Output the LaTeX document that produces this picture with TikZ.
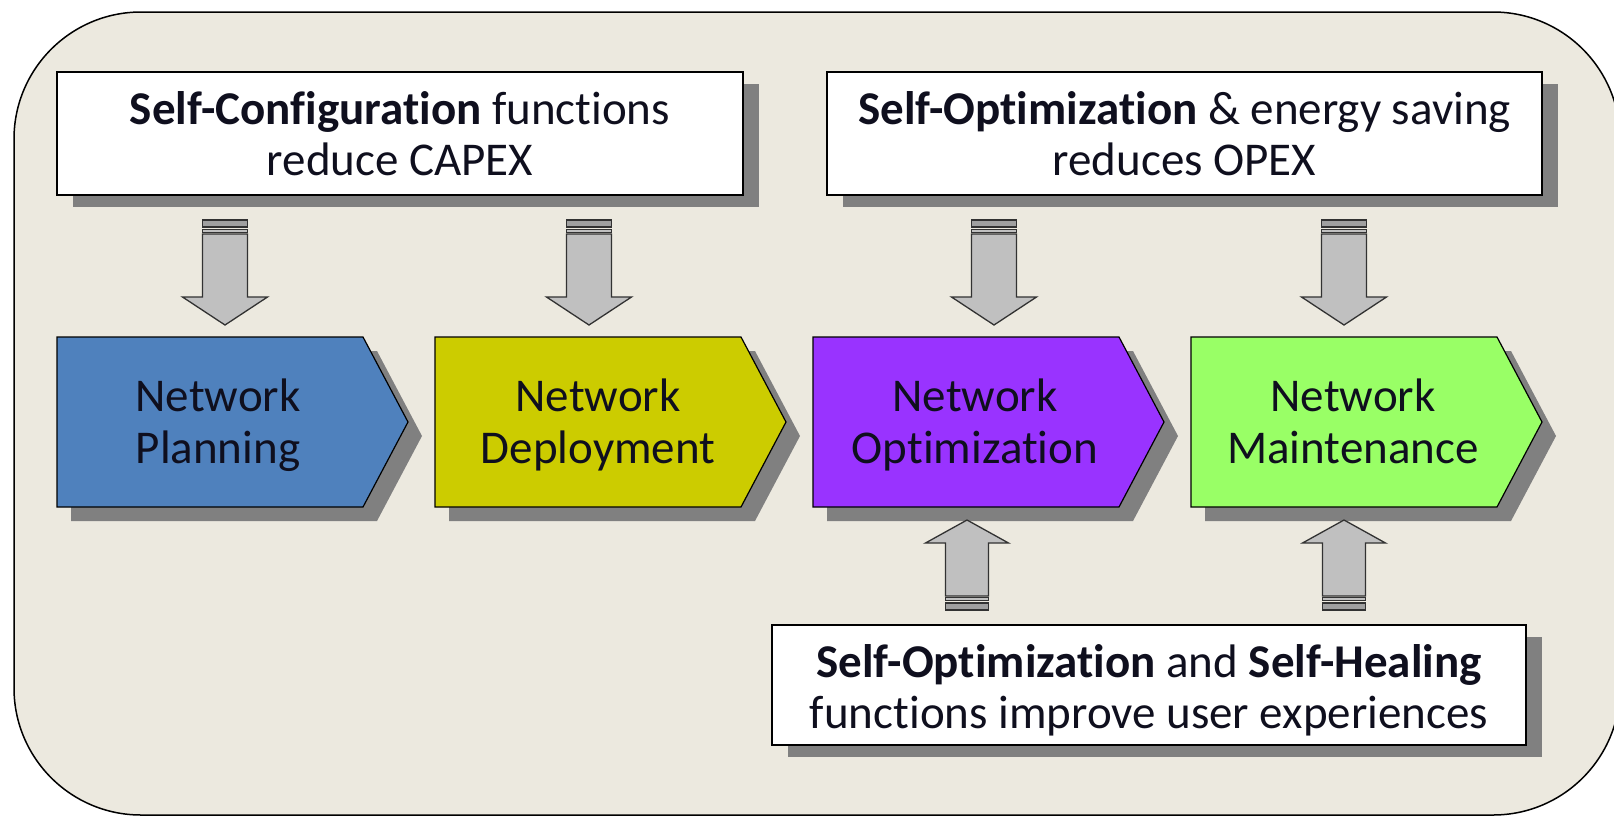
\documentclass[tikz,border=0pt]{standalone}
\usepackage{fontspec}
\setmainfont{Carlito}[Ligatures={CommonOff}]
\usetikzlibrary{shadows}
\definecolor{bg}{RGB}{236,233,223}
\definecolor{shadowgray}{RGB}{128,128,128}
\definecolor{cplan}{RGB}{79,129,189}
\definecolor{cdeploy}{RGB}{204,204,0}
\definecolor{coptim}{RGB}{153,51,255}
\definecolor{cmaint}{RGB}{153,255,102}
\definecolor{arrfill}{RGB}{192,192,192}
\definecolor{arrline}{RGB}{50,50,50}
\definecolor{stripefill}{RGB}{160,160,160}
\definecolor{txtcol}{RGB}{15,15,30}
\tikzset{
  txt/.style={font=\fontsize{47}{51.5}\selectfont, align=center, text=txtcol, inner sep=0},
  box/.style={draw=black, line width=1.5, fill=white, txt, outer sep=0, anchor=north west,
    drop shadow={shadow xshift=16pt, shadow yshift=-12pt, fill=shadowgray, opacity=1}},
  chev/.style={draw=black, line width=1.2,
    drop shadow={shadow xshift=14pt, shadow yshift=-14pt, fill=shadowgray, opacity=1}},
  arr/.style={draw=arrline, fill=arrfill, line width=1.3, line join=miter},
}
\newcommand\downblock[1]{%
  \begin{scope}[shift={(#1)}]
    \draw[arr, fill=stripefill] (-22.5,0) rectangle (22.5,7);
    \draw[arr] (-22.5,9.5) rectangle (22.5,12.5);
    \draw[arr] (-22.5,14) -- (-22.5,77) -- (-42.5,77) -- (0,105) -- (42.5,77) -- (22.5,77) -- (22.5,14) -- cycle;
  \end{scope}}
\newcommand\upblock[1]{%
  \begin{scope}[shift={(#1)}]
    \draw[arr, fill=stripefill] (-21.5,0) rectangle (21.5,-7);
    \draw[arr] (-21.5,-9.5) rectangle (21.5,-12.5);
    \draw[arr] (-21.5,-14) -- (-21.5,-67) -- (-41.5,-67) -- (0,-90) -- (41.5,-67) -- (21.5,-67) -- (21.5,-14) -- cycle;
  \end{scope}}
\newcommand\chevron[2]{%
  \path[chev, fill=#2] (#1,337) -- ++(306,0) -- ++(45,85) -- ++(-45,85) -- ++(-306,0) -- cycle;}
\begin{document}
\begin{tikzpicture}[x=1pt,y=-1pt]
\useasboundingbox (0,0) rectangle (1614,817);
\fill[white] (-10,-10) rectangle (1630,830);
\begin{scope}[y=1pt, yshift=-817pt]
\draw[fill=bg, line width=1.5] (141,805) -- (1493,805) arc[start angle=90, end angle=0, radius=127]
  -- (1620,129) arc[start angle=0, end angle=-90, radius=127]
  -- (141,2) arc[start angle=270, end angle=180, radius=127]
  -- (14,678) arc[start angle=180, end angle=90, radius=127] -- cycle;
\end{scope}

% top and bottom boxes
\node[box, minimum width=686, minimum height=123] (cfg) at (57,72)
  {\textbf{Self-Configuration} functions\\\smash{reduce CAPEX}};
\node[box, minimum width=715, minimum height=123] (opt) at (827,72)
  {\textbf{Self-Optimization} \& energy saving\\\smash{reduces OPEX}};
\node[box, minimum width=754, minimum height=120] (heal) at (772,625)
  {\rule{0pt}{36pt}\textbf{Self-Optimization} and \textbf{Self-Healing}\\\smash{functions improve user experiences}};

% chevrons
\chevron{57}{cplan}
\chevron{435}{cdeploy}
\chevron{813}{coptim}
\chevron{1191}{cmaint}
\node[txt] (plan) at (218,421) {Network\\\smash{Planning}};
\node[txt] (deploy) at (598,421) {Network\\\smash{Deployment}};
\node[txt] (optim) at (975,421) {Network\\\smash{Optimization}};
\node[txt] (maint) at (1353,421) {Network\\\smash{Maintenance}};

% block arrows
\coordinate (d1) at (225,220);
\coordinate (d2) at (589,220);
\coordinate (d3) at (994,220);
\coordinate (d4) at (1344,220);
\coordinate (u1) at (967,610);
\coordinate (u2) at (1344,610);
\downblock{d1}
\downblock{d2}
\downblock{d3}
\downblock{d4}
\upblock{u1}
\upblock{u2}
\end{tikzpicture}
\end{document}
